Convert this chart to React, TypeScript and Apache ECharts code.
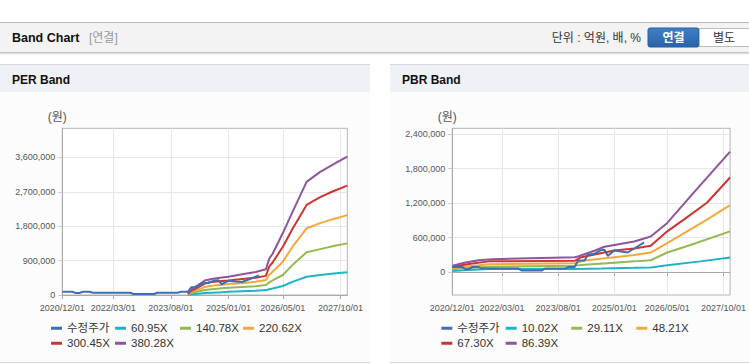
import React, { useEffect, useRef } from 'react';
import * as echarts from 'echarts';

// ---- categories (monthly, 2020/12 .. 2027/12)
const months: string[] = [];
for (let i = 0; i < 85; i++) {
  const m = 11 + i;
  const y = 2020 + Math.floor(m / 12);
  const mm = (m % 12) + 1;
  months.push(`${y}/${String(mm).padStart(2, '0')}/01`);
}
const xTickLabels = ['2020/12/01', '2022/03/01', '2023/08/01', '2025/01/01', '2026/05/01', '2027/10/01'];

const perYTicks = [0, 900000, 1800000, 2700000, 3600000];
const pbrYTicks = [0, 600000, 1200000, 1800000, 2400000];

const perNames = ['수정주가', '60.95X', '140.78X', '220.62X', '300.45X', '380.28X'];
const pbrNames = ['수정주가', '10.02X', '29.11X', '48.21X', '67.30X', '86.39X'];
const colors = ['#3d6fb6', '#1eb4c6', '#95b952', '#f4a83c', '#cc3530', '#8e559c'];

type P = [string, number];

// 수정주가 (adjusted price)
const price: P[] = [
  ['2020/12/01', 85000], ['2021/03/01', 85000], ['2021/04/01', 50000], ['2021/05/01', 50000],
  ['2021/06/01', 85000], ['2021/08/01', 85000], ['2021/09/01', 60000], ['2022/08/01', 60000],
  ['2022/09/01', 25000], ['2023/03/01', 25000], ['2023/04/01', 60000], ['2023/10/01', 60000],
  ['2023/11/01', 85000], ['2024/01/01', 85000], ['2024/02/01', 200000], ['2024/04/01', 200000],
  ['2024/05/01', 300000], ['2024/07/01', 320000], ['2024/09/01', 380000], ['2024/10/01', 386000],
  ['2024/11/01', 281000], ['2025/01/01', 374000], ['2025/03/01', 356000], ['2025/05/01', 339000],
  ['2025/08/01', 444000], ['2025/10/01', 514000],
];

// PER bands
const per1: P[] = [
  ['2024/01/01', 5000], ['2024/02/01', 20000], ['2024/04/01', 35000], ['2024/06/01', 50000],
  ['2024/08/01', 60000], ['2024/11/01', 75000], ['2025/01/01', 86000], ['2025/05/01', 100000],
  ['2025/09/01', 110000], ['2025/12/01', 128000], ['2026/01/01', 150000], ['2026/02/01', 170000],
  ['2026/05/01', 235000], ['2026/08/01', 350000], ['2026/12/01', 479000], ['2027/04/01', 520000],
  ['2027/08/01', 560000], ['2027/12/01', 594000],
];
const per2: P[] = [
  ['2024/01/01', 15000], ['2024/02/01', 50000], ['2024/04/01', 90000], ['2024/06/01', 130000],
  ['2024/08/01', 150000], ['2024/11/01', 175000], ['2025/01/01', 190000], ['2025/05/01', 210000],
  ['2025/09/01', 230000], ['2025/12/01', 260000], ['2026/01/01', 330000], ['2026/02/01', 380000],
  ['2026/05/01', 523000], ['2026/08/01', 800000], ['2026/12/01', 1117000], ['2027/04/01', 1200000],
  ['2027/08/01', 1280000], ['2027/12/01', 1350000],
];
const per3: P[] = [
  ['2024/01/01', 20000], ['2024/02/01', 80000], ['2024/04/01', 140000], ['2024/06/01', 210000],
  ['2024/08/01', 240000], ['2024/11/01', 270000], ['2025/01/01', 285000], ['2025/05/01', 310000],
  ['2025/09/01', 345000], ['2025/12/01', 392000], ['2026/01/01', 530000], ['2026/02/01', 610000],
  ['2026/05/01', 871000], ['2026/08/01', 1280000], ['2026/12/01', 1745000], ['2027/04/01', 1880000],
  ['2027/08/01', 1990000], ['2027/12/01', 2090000],
];
const per4: P[] = [
  ['2024/01/01', 30000], ['2024/02/01', 110000], ['2024/04/01', 200000], ['2024/06/01', 300000],
  ['2024/08/01', 340000], ['2024/11/01', 365000], ['2025/01/01', 380000], ['2025/05/01', 420000],
  ['2025/09/01', 450000], ['2025/12/01', 500000], ['2026/01/01', 750000], ['2026/02/01', 850000],
  ['2026/05/01', 1264000], ['2026/08/01', 1750000], ['2026/12/01', 2355000], ['2027/04/01', 2560000],
  ['2027/08/01', 2720000], ['2027/12/01', 2860000],
];
const per5: P[] = [
  ['2024/01/01', 40000], ['2024/02/01', 150000], ['2024/04/01', 260000], ['2024/06/01', 380000],
  ['2024/08/01', 420000], ['2024/11/01', 460000], ['2025/01/01', 480000], ['2025/05/01', 540000],
  ['2025/09/01', 600000], ['2025/12/01', 672000], ['2026/01/01', 950000], ['2026/02/01', 1080000],
  ['2026/05/01', 1620000], ['2026/08/01', 2200000], ['2026/12/01', 2960000], ['2027/04/01', 3220000],
  ['2027/08/01', 3420000], ['2027/12/01', 3620000],
];

// PBR bands
const pbr1: P[] = [
  ['2020/12/01', 18000], ['2021/05/01', 35000], ['2021/11/01', 53000], ['2024/01/01', 53000],
  ['2024/09/01', 60000], ['2025/01/01', 65000], ['2025/07/01', 72000], ['2025/12/01', 80000],
  ['2026/05/01', 117000], ['2027/03/01', 185000], ['2027/12/01', 251000],
];
const pbr2: P[] = [
  ['2020/12/01', 47000], ['2021/05/01', 70000], ['2021/11/01', 93000], ['2024/01/01', 111000],
  ['2024/04/01', 125000], ['2025/01/01', 163000], ['2025/07/01', 185000], ['2025/12/01', 205000],
  ['2026/05/01', 339000], ['2026/12/01', 470000], ['2027/12/01', 707000],
];
const pbr3: P[] = [
  ['2020/12/01', 65000], ['2021/05/01', 100000], ['2021/11/01', 135000], ['2024/01/01', 152000],
  ['2024/04/01', 200000], ['2025/01/01', 258000], ['2025/07/01', 295000], ['2025/12/01', 339000],
  ['2026/05/01', 503000], ['2027/05/01', 912000], ['2027/12/01', 1163000],
];
const pbr4: P[] = [
  ['2020/12/01', 93000], ['2021/05/01', 140000], ['2021/11/01', 185000], ['2024/01/01', 195000],
  ['2024/03/01', 258000], ['2025/01/01', 374000], ['2025/07/01', 410000], ['2025/12/01', 456000],
  ['2026/05/01', 707000], ['2026/10/01', 912000], ['2027/05/01', 1205000], ['2027/12/01', 1644000],
];
const pbr5: P[] = [
  ['2020/12/01', 111000], ['2021/04/01', 165000], ['2021/08/01', 205000], ['2021/12/01', 222000],
  ['2022/03/01', 228000], ['2024/01/01', 257000], ['2024/02/01', 270000], ['2024/07/01', 370000],
  ['2024/10/01', 440000], ['2025/01/01', 470000], ['2025/07/01', 530000], ['2025/11/01', 600000],
  ['2025/12/01', 619000], ['2026/05/01', 854000], ['2027/01/01', 1380000], ['2027/12/01', 2093000],
];

const perData = [price, per1, per2, per3, per4, per5];
const pbrData = [price, pbr1, pbr2, pbr3, pbr4, pbr5];

const FONT = "'Liberation Sans', 'Noto Sans CJK KR', sans-serif";
const fmt = (v: number) => Math.round(v).toLocaleString('en-US');
const showTick = (_i: number, v: string) => xTickLabels.includes(v);

function makeX(gridIndex: number) {
  return {
    type: 'category',
    gridIndex,
    data: months,
    boundaryGap: false,
    axisLine: { lineStyle: { color: '#aaaaaa' } },
    axisTick: { interval: showTick, length: 4, lineStyle: { color: '#aaaaaa' } },
    axisLabel: {
      interval: showTick, showMinLabel: true, showMaxLabel: true, hideOverlap: false,
      color: '#555', fontSize: 9, margin: 8, fontFamily: FONT,
    },
    splitLine: { show: true, interval: showTick, lineStyle: { color: '#e6e6e6' } },
  };
}

function makeY(gridIndex: number, min: number, max: number, ticks: number[]) {
  return {
    type: 'value',
    gridIndex,
    min,
    max,
    name: '(원)',
    nameLocation: 'end',
    nameGap: 5,
    nameTextStyle: { color: '#555', fontSize: 12, align: 'center', padding: [0, 10, 0, 0], fontFamily: FONT },
    axisLine: { show: true, lineStyle: { color: '#aaaaaa' } },
    axisTick: { show: true, length: 4, customValues: ticks, lineStyle: { color: '#cccccc' } },
    axisLabel: { customValues: ticks, formatter: fmt, color: '#555', fontSize: 9, margin: 7, fontFamily: FONT },
    splitLine: { show: true, lineStyle: { color: '#e6e6e6' } },
  };
}

function makeSeries(names: string[], data: P[][], idx: number) {
  return names.map((n, k) => ({
    type: 'line',
    name: n,
    xAxisIndex: idx,
    yAxisIndex: idx,
    data: data[k],
    showSymbol: false,
    symbol: 'none',
    z: k === 0 ? 4 : 2,
    color: colors[k],
    lineStyle: { width: 2, color: colors[k] },
  }));
}

function makeLegends(names: string[], x0: number, cols: number[], rows: number[]) {
  return names.map((n, k) => ({
    data: [n],
    left: x0 + cols[k % 4],
    top: rows[Math.floor(k / 4)],
    padding: 0,
    icon: 'rect',
    itemWidth: 11,
    itemHeight: 3,
    textStyle: { color: '#333', fontSize: 11.5, fontFamily: FONT },
  }));
}

function panelGraphics(x: number, w: number, title: string) {
  return [
    { type: 'rect', z: -10, shape: { x, y: 92, width: w, height: 270 }, style: { fill: '#fcfcfc' } },
    { type: 'rect', z: -9, shape: { x, y: 64, width: w, height: 28 }, style: { fill: '#eef2f7' } },
    { type: 'line', z: -8, shape: { x1: x, y1: 64.5, x2: x + w, y2: 64.5 }, style: { stroke: '#d8d8d8', lineWidth: 1 } },
    { type: 'line', z: -8, shape: { x1: x, y1: 362.5, x2: x + w, y2: 362.5 }, style: { stroke: '#d4d4d4', lineWidth: 1 } },
    {
      type: 'text', z: -7, x: x + 12, y: 80,
      style: { text: title, fill: '#111', font: `bold 12px ${FONT}`, verticalAlign: 'middle' },
    },
  ];
}

export default function App() {
  const ref = useRef<HTMLDivElement>(null);
  useEffect(() => {
    if (!ref.current) return;
    const chart = echarts.init(ref.current, undefined, { renderer: 'svg' });
    const graphic: any[] = [
      { type: 'rect', z: -10, shape: { x: 0, y: 22, width: 749, height: 31 }, style: { fill: '#f3f3f3' } },
      { type: 'line', z: -9, shape: { x1: 0, y1: 22.5, x2: 749, y2: 22.5 }, style: { stroke: '#b8b8b8', lineWidth: 1 } },
      { type: 'line', z: -9, shape: { x1: 0, y1: 52.5, x2: 749, y2: 52.5 }, style: { stroke: '#c4c4c4', lineWidth: 1 } },
      { type: 'line', z: -9, shape: { x1: 0, y1: 53.5, x2: 749, y2: 53.5 }, style: { stroke: '#e2e2e2', lineWidth: 1 } },
      { type: 'line', z: -9, shape: { x1: 0, y1: 54.5, x2: 749, y2: 54.5 }, style: { stroke: '#f2f2f2', lineWidth: 1 } },
      { type: 'text', z: -8, x: 12, y: 38, style: { text: 'Band Chart', fill: '#111', font: `bold 12.5px ${FONT}`, verticalAlign: 'middle' } },
      { type: 'text', z: -8, x: 89, y: 38, style: { text: '[연결]', fill: '#999', font: `12px ${FONT}`, verticalAlign: 'middle' } },
      { type: 'text', z: -8, x: 641, y: 38, style: { text: '단위 : 억원, 배, %', fill: '#333', font: `12px ${FONT}`, align: 'right', verticalAlign: 'middle' } },
      {
        type: 'rect', z: -8, shape: { x: 648, y: 28, width: 51, height: 19, r: 2 },
        style: {
          fill: new echarts.graphic.LinearGradient(0, 0, 0, 1, [
            { offset: 0, color: '#3f80c6' },
            { offset: 1, color: '#2a62a6' },
          ]),
          stroke: '#2a5f9e', lineWidth: 1,
        },
      },
      { type: 'text', z: -7, x: 673.5, y: 37.5, style: { text: '연결', fill: '#fff', font: `bold 12px ${FONT}`, align: 'center', verticalAlign: 'middle' } },
      { type: 'rect', z: -8, shape: { x: 699.5, y: 28.5, width: 52, height: 18 }, style: { fill: '#fff', stroke: '#bbbbbb', lineWidth: 1 } },
      { type: 'text', z: -7, x: 724, y: 37.5, style: { text: '별도', fill: '#333', font: `12px ${FONT}`, align: 'center', verticalAlign: 'middle' } },
      ...panelGraphics(0, 370, 'PER Band'),
      ...panelGraphics(390, 359, 'PBR Band'),
    ];

    chart.setOption({
      animation: false,
      textStyle: { fontFamily: FONT },
      graphic,
      grid: [
        { left: 62.3, top: 128.3, width: 285, height: 166.7, show: true, backgroundColor: '#ffffff', borderColor: '#b4b4b4', borderWidth: 1 },
        { left: 452.3, top: 128.3, width: 285, height: 166.7, show: true, backgroundColor: '#ffffff', borderColor: '#b4b4b4', borderWidth: 1 },
      ],
      xAxis: [makeX(0), makeX(1)],
      yAxis: [makeY(0, 0, 4360000, perYTicks), makeY(1, -400000, 2500000, pbrYTicks)],
      legend: [
        ...makeLegends(perNames, 0, [51, 115, 180, 243], [322.5, 337.5]),
        ...makeLegends(pbrNames, 390, [51.3, 115.7, 181.3, 246.3], [322.5, 337.5]),
      ],
      tooltip: { show: false },
      series: [...makeSeries(perNames, perData, 0), ...makeSeries(pbrNames, pbrData, 1)],
    });
    return () => chart.dispose();
  }, []);

  return (
    <div style={{ position: 'fixed', left: 0, top: 0, width: 749, height: 364, background: '#fff' }}>
      <div ref={ref} style={{ width: 749, height: 364 }} />
    </div>
  );
}
